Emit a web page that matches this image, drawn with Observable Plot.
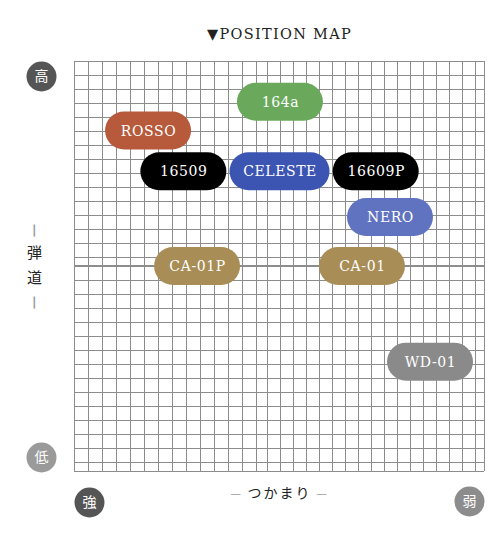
<!DOCTYPE html>
<html>
<head>
<meta charset="utf-8">
<script src="https://cdn.jsdelivr.net/npm/d3@7"></script>
<script src="https://cdn.jsdelivr.net/npm/@observablehq/plot@0.6"></script>
<style>
  html, body { margin: 0; padding: 0; background: #fff; }
</style>
</head>
<body>
<div id="chart"></div>
<script>
// ---- data (grid units: 1 unit = one 14px cell) ----
const models = ["164a", "ROSSO", "16509", "CELESTE", "16609P", "NERO", "CA-01P", "CA-01", "WD-01"];
// つかまり (grip): left = strong, right = weak
const grip = [14.71, 5.29, 7.81, 14.68, 21.55, 22.57, 8.79, 20.57, 25.43];
// 弾道 (trajectory): bottom = low, top = high
const trajectory = [26.37, 24.32, 21.41, 21.41, 21.41, 18.14, 14.64, 14.64, 7.81];
const modelColors = ["#6aa95c", "#b65a3b", "#000000", "#3c55b3", "#000000", "#5f73c0", "#a88d56", "#a88d56", "#8a8a8a"];

const title = "▼POSITION MAP";
const yEnds = ["高", "低"];
const xEnds = ["強", "弱"];
const yLabel = ["弾", "道"];
const xLabel = "つかまり";

// ---- layout ----
const X_MAX = 410 / 14;
const Y_MAX = 410 / 14;
const Y_MID = 205.5 / 14;

const vLines = [
  ...d3.range(0, 14),
  ...d3.range(0, 17).map(k => 193 / 14 + k * 13 / 14),
  X_MAX
];
const hLines = [
  ...d3.range(0, 15).map(k => Y_MAX - k),
  ...d3.range(0, 14).map(k => 191 / 14 - k),
  0
];

const data = models.map((m, i) => ({ label: m, x: grip[i], y: trajectory[i], color: modelColors[i] }));
const halfW = d => (d.label.length > 6 ? 50 : 43) / 14;
const halfH = 19 / 14;

const ends = [
  { t: yEnds[0], x: 0, y: Y_MAX, dx: -33, dy: 15, fill: "#555555" },
  { t: yEnds[1], x: 0, y: 0, dx: -33, dy: -14, fill: "#9a9a9a" },
  { t: xEnds[0], x: 0, y: 0, dx: 15, dy: 31, fill: "#555555" },
  { t: xEnds[1], x: X_MAX, y: 0, dx: -15, dy: 30, fill: "#8c8c8c" }
];

const cjk = "Noto Sans CJK JP";
const serif = "DejaVu Serif";

const endMarks = ends.flatMap(e => [
  Plot.dot([e], { x: "x", y: "y", r: 15, fill: e.fill, stroke: "none", dx: e.dx, dy: e.dy }),
  Plot.text([e], { x: "x", y: "y", text: "t", fill: "#fff", fontSize: 14, fontFamily: cjk, dx: e.dx, dy: e.dy })
]);

const yLabelMarks = [
  Plot.text([yLabel[0]], { text: d => d, frameAnchor: "left", textAnchor: "middle", dx: -40, dy: -13, fontFamily: cjk, fontSize: 15, fill: "#222" }),
  Plot.text([yLabel[1]], { text: d => d, frameAnchor: "left", textAnchor: "middle", dx: -40, dy: 12, fontFamily: cjk, fontSize: 15, fill: "#222" }),
  Plot.text(["—"], { text: d => d, frameAnchor: "left", textAnchor: "middle", dx: -40, dy: -36, fontFamily: cjk, fontSize: 15, fontWeight: "bold", fill: "#999", rotate: 90 }),
  Plot.text(["—"], { text: d => d, frameAnchor: "left", textAnchor: "middle", dx: -40, dy: 36, fontFamily: cjk, fontSize: 15, fontWeight: "bold", fill: "#999", rotate: 90 })
];

const plot = Plot.plot({
  width: 503,
  height: 534,
  marginLeft: 74,
  marginRight: 19,
  marginTop: 61,
  marginBottom: 63,
  x: { domain: [0, X_MAX], axis: null },
  y: { domain: [0, Y_MAX], axis: null },
  color: { type: "identity" },
  style: { background: "#fff", overflow: "visible" },
  marks: [
    Plot.ruleX(vLines, { stroke: "#8c8c8c", strokeWidth: 1 }),
    Plot.ruleY(hLines, { stroke: "#8c8c8c", strokeWidth: 1 }),
    Plot.ruleY([Y_MID], { stroke: "#8c8c8c", strokeWidth: 2 }),
    Plot.rect(data, {
      x1: d => d.x - halfW(d), x2: d => d.x + halfW(d),
      y1: d => d.y - halfH, y2: d => d.y + halfH,
      fill: "color", rx: 19, ry: 19
    }),
    Plot.text(data, {
      x: "x", y: "y", text: "label", fill: "#fff",
      fontFamily: serif, fontSize: 14
    }),
    Plot.text([title], {
      text: d => d, frameAnchor: "top", dy: -33,
      fontFamily: serif, fontSize: 14.5, fill: "#222"
    }),
    ...endMarks,
    ...yLabelMarks,
    Plot.text([xLabel], {
      text: d => d, frameAnchor: "bottom", dy: 26,
      fontFamily: cjk, fontSize: 14, fill: "#222"
    }),
    Plot.text(["—"], { text: d => d, frameAnchor: "bottom", dx: -44, dy: 26, fontFamily: cjk, fontSize: 12, fill: "#999" }),
    Plot.text(["—"], { text: d => d, frameAnchor: "bottom", dx: 42, dy: 26, fontFamily: cjk, fontSize: 12, fill: "#999" })
  ]
});

// letter-spacing (not a Plot option) applied by text content
const spacing = new Map([[title, "1.3px"], [xLabel, "2px"]]);
models.forEach(m => spacing.set(m, "0.6px"));
d3.select(plot).selectAll("text").each(function () {
  const s = spacing.get(this.textContent);
  if (s) this.style.letterSpacing = s;
});

document.getElementById("chart").appendChild(plot);
</script>
</body>
</html>
